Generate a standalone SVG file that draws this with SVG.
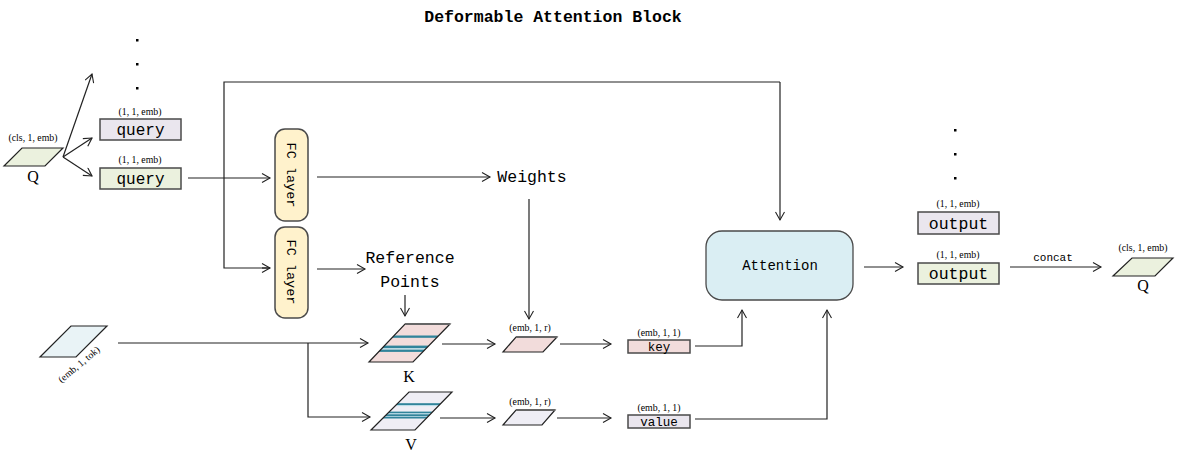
<svg xmlns="http://www.w3.org/2000/svg" width="1177" height="463" viewBox="0 0 1177 463">
<style>
.t{font-family:"Liberation Mono","DejaVu Sans Mono",monospace;fill:#000}
.s{font-family:"Liberation Serif","DejaVu Serif",serif;font-size:9.8px;fill:#000;text-anchor:middle}
.ln{fill:none;stroke:#222;stroke-width:1.2}
.box{stroke:#4a4a4a;stroke-width:1.5}
.dot{fill:#000}
</style>
<defs>
<marker id="ah" markerWidth="12" markerHeight="12" refX="9" refY="5" orient="auto" markerUnits="userSpaceOnUse">
<path d="M1,0.5 L9,5 L1,9.5" fill="none" stroke="#222" stroke-width="1.1"/>
</marker>
<clipPath id="ck"><polygon points="405,324 450,324 413,362 369,362"/></clipPath>
<clipPath id="cv"><polygon points="409,392 452,392 415,430 371,430"/></clipPath>
</defs>
<rect width="1177" height="463" fill="#fff"/>
<text class="t" x="553" y="22" font-size="16.5" font-weight="bold" text-anchor="middle">Deformable Attention Block</text>

<g id="dots-top"><rect class="dot" x="136" y="39" width="2.5" height="2.5"/><rect class="dot" x="136" y="63" width="2.5" height="2.5"/><rect class="dot" x="136" y="87" width="2.5" height="2.5"/></g>
<g id="dots-out"><rect class="dot" x="954" y="129" width="2.5" height="2.5"/><rect class="dot" x="954" y="153" width="2.5" height="2.5"/><rect class="dot" x="954" y="177" width="2.5" height="2.5"/></g>

<g id="connectors">
<path class="ln" d="M63,157 L92,74" marker-end="url(#ah)"/>
<path class="ln" d="M63,157 L92,138" marker-end="url(#ah)"/>
<path class="ln" d="M63,157 L92,176" marker-end="url(#ah)"/>
<path class="ln" d="M188,178 L270,178" marker-end="url(#ah)"/>
<path class="ln" d="M780,82 L224,82 L224,268 L270,268" />
<path class="ln" d="M262,268 L270,268" marker-end="url(#ah)"/>
<path class="ln" d="M780,82 L780,220" marker-end="url(#ah)"/>
<path class="ln" d="M317,177 L490,177" marker-end="url(#ah)"/>
<path class="ln" d="M529,199 L529,319" marker-end="url(#ah)"/>
<path class="ln" d="M317,269 L365,269" marker-end="url(#ah)"/>
<path class="ln" d="M405,295 L405,316" marker-end="url(#ah)"/>
<path class="ln" d="M118,343 L368,343" marker-end="url(#ah)"/>
<path class="ln" d="M308,343 L308,417 L370,417" marker-end="url(#ah)"/>
<path class="ln" d="M442,344 L495,344" marker-end="url(#ah)"/>
<path class="ln" d="M560,344 L611,344" marker-end="url(#ah)"/>
<path class="ln" d="M440,418 L495,418" marker-end="url(#ah)"/>
<path class="ln" d="M557,418 L611,418" marker-end="url(#ah)"/>
<path class="ln" d="M695,346 L742,346 L742,310" marker-end="url(#ah)"/>
<path class="ln" d="M695,419 L827,419 L827,310" marker-end="url(#ah)"/>
<path class="ln" d="M864,267 L903,267" marker-end="url(#ah)"/>
<path class="ln" d="M1010,267 L1101,267" marker-end="url(#ah)"/>
<text x="1053" y="261" font-family="Liberation Mono,monospace" font-size="11" text-anchor="middle">concat</text>
</g>

<g id="q-in">
<polygon points="22,148 63,148 45,166 4,166" fill="#ebf1de" stroke="#222" stroke-width="1.2"/>
<text class="s" x="33" y="141">(cls, 1, emb)</text>
<text x="33" y="182" font-family="Liberation Serif,serif" font-size="16" text-anchor="middle">Q</text>
</g>

<g id="query1">
<rect class="box" x="100" y="119" width="81" height="21" fill="#eae6ee"/>
<text class="s" x="140" y="115">(1, 1, emb)</text>
<text class="t" x="140.5" y="135" font-size="16" text-anchor="middle">query</text>
</g>
<g id="query2">
<rect class="box" x="100" y="168" width="81" height="21" fill="#ebf1de"/>
<text class="s" x="140" y="163">(1, 1, emb)</text>
<text class="t" x="140.5" y="184" font-size="16" text-anchor="middle">query</text>
</g>

<g id="fc1">
<rect class="box" x="275" y="129" width="33" height="92" rx="10" fill="#fff2cc"/>
<text class="t" font-size="13.5" text-anchor="middle" transform="translate(287,175) rotate(90)">FC layer</text>
</g>
<g id="fc2">
<rect class="box" x="275" y="227" width="33" height="91" rx="10" fill="#fff2cc"/>
<text class="t" font-size="13.5" text-anchor="middle" transform="translate(287,272) rotate(90)">FC layer</text>
</g>

<g id="weights"><text class="t" x="532" y="182" font-size="16.5" text-anchor="middle">Weights</text></g>
<g id="refpoints">
<text class="t" x="410" y="263" font-size="16.5" text-anchor="middle">Reference</text>
<text class="t" x="410" y="287" font-size="16.5" text-anchor="middle">Points</text>
</g>

<g id="tok-in">
<polygon points="71,326 107,326 76,357 40,357" fill="#e9f3f6" stroke="#222" stroke-width="1.2"/>
<text class="s" font-size="8.5" text-anchor="start" transform="translate(81,367) rotate(-40)">(emb, 1, tok)</text>
</g>

<g id="K">
<polygon points="405,324 450,324 413,362 369,362" fill="#f2dcdb"/>
<g clip-path="url(#ck)">
<rect x="360" y="335.5" width="100" height="2.3" fill="#31849b"/>
<rect x="360" y="345.6" width="100" height="2.6" fill="#31849b"/>
<rect x="360" y="348.2" width="100" height="1.5" fill="#b7dde8"/>
<rect x="360" y="349.7" width="100" height="2.2" fill="#31849b"/>
</g>
<polygon points="405,324 450,324 413,362 369,362" fill="none" stroke="#222" stroke-width="1.2"/>
<line x1="405" y1="324" x2="450" y2="324" stroke="#666" stroke-width="2"/>
<text x="409" y="382" font-family="Liberation Serif,serif" font-size="16" text-anchor="middle">K</text>
</g>

<g id="V">
<polygon points="409,392 452,392 415,430 371,430" fill="#efeef5"/>
<g clip-path="url(#cv)">
<rect x="360" y="403.2" width="100" height="1.9" fill="#31849b"/>
<rect x="360" y="405.1" width="100" height="1" fill="#b7dde8"/>
<rect x="360" y="411.6" width="100" height="1.8" fill="#31849b"/>
<rect x="360" y="413.4" width="100" height="1" fill="#b7dde8"/>
<rect x="360" y="414.3" width="100" height="1.8" fill="#31849b"/>
<rect x="360" y="416.1" width="100" height="0.7" fill="#b7dde8"/>
<rect x="360" y="416.8" width="100" height="1.7" fill="#31849b"/>
</g>
<polygon points="409,392 452,392 415,430 371,430" fill="none" stroke="#222" stroke-width="1.2"/>
<text x="411" y="450" font-family="Liberation Serif,serif" font-size="16" text-anchor="middle">V</text>
</g>

<g id="k-r">
<polygon points="516,337 557,337 543,352 503,352" fill="#f2dcdb" stroke="#222" stroke-width="1.2"/>
<line x1="516" y1="337" x2="557" y2="337" stroke="#666" stroke-width="1.8"/>
<text class="s" x="530" y="331">(emb, 1, r)</text>
</g>
<g id="v-r">
<polygon points="516,410 555,410 542,425 503,425" fill="#efeef5" stroke="#222" stroke-width="1.2"/>
<line x1="516" y1="410" x2="555" y2="410" stroke="#666" stroke-width="1.8"/>
<text class="s" x="530" y="405">(emb, 1, r)</text>
</g>

<g id="key">
<rect class="box" x="628" y="340" width="62" height="13" fill="#f2dcdb"/>
<text class="s" x="659" y="336">(emb, 1, 1)</text>
<text class="t" x="659" y="351" font-size="12.5" text-anchor="middle">key</text>
</g>
<g id="value">
<rect class="box" x="628" y="415" width="62" height="13" fill="#eae6ee"/>
<text class="s" x="659" y="411">(emb, 1, 1)</text>
<text class="t" x="659" y="426" font-size="12.5" text-anchor="middle">value</text>
</g>

<g id="attention">
<rect x="706" y="231" width="147" height="69" rx="16" fill="#daeef3" stroke="#4a4a4a" stroke-width="1.3"/>
<text class="t" x="780" y="270" font-size="14" text-anchor="middle">Attention</text>
</g>

<g id="output1">
<rect class="box" x="918" y="212" width="81" height="22" fill="#eae6ee"/>
<text class="s" x="958" y="207">(1, 1, emb)</text>
<text class="t" x="958.5" y="229" font-size="16.5" text-anchor="middle">output</text>
</g>
<g id="output2">
<rect class="box" x="918" y="263" width="81" height="21" fill="#ebf1de"/>
<text class="s" x="958" y="258">(1, 1, emb)</text>
<text class="t" x="958.5" y="279" font-size="16.5" text-anchor="middle">output</text>
</g>

<g id="q-out">
<polygon points="1132,258 1173,258 1155,276 1113,276" fill="#ebf1de" stroke="#222" stroke-width="1.2"/>
<text class="s" x="1143" y="251">(cls, 1, emb)</text>
<text x="1143" y="291" font-family="Liberation Serif,serif" font-size="16" text-anchor="middle">Q</text>
</g>
</svg>
